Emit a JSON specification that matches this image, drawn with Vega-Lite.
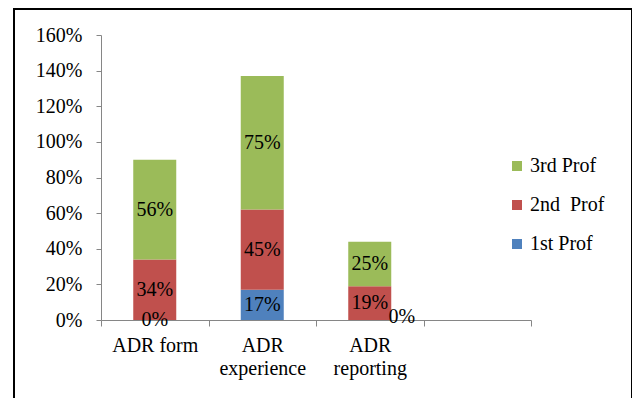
{
  "$schema": "https://vega.github.io/schema/vega-lite/v6.json",
  "width": 618,
  "height": 395,
  "autosize": "none",
  "padding": {"left": 14, "top": 9, "right": 0, "bottom": 0},
  "background": "white",
  "config": {
    "font": "Times New Roman, Liberation Serif, serif",
    "view": {"stroke": "#000000", "strokeWidth": 2},
    "axis": {
      "grid": false,
      "domainColor": "#868686",
      "tickColor": "#868686",
      "labelColor": "#000000",
      "labelFont": "Times New Roman, Liberation Serif, serif",
      "labelFontSize": 20
    },
    "legend": {
      "labelFont": "Times New Roman, Liberation Serif, serif",
      "labelFontSize": 20,
      "labelColor": "#000000"
    },
    "text": {"font": "Times New Roman, Liberation Serif, serif"}
  },
  "data": {
    "values": [
      {"question": "ADR form", "prof": "1st Prof", "share": 0.00},
      {"question": "ADR form", "prof": "2nd  Prof", "share": 0.34},
      {"question": "ADR form", "prof": "3rd Prof", "share": 0.56},
      {"question": "ADR experience", "prof": "1st Prof", "share": 0.17},
      {"question": "ADR experience", "prof": "2nd  Prof", "share": 0.45},
      {"question": "ADR experience", "prof": "3rd Prof", "share": 0.75},
      {"question": "ADR reporting", "prof": "1st Prof", "share": 0.00},
      {"question": "ADR reporting", "prof": "2nd  Prof", "share": 0.19},
      {"question": "ADR reporting", "prof": "3rd Prof", "share": 0.25}
    ]
  },
  "transform": [
    {"stack": "share", "groupby": ["question"], "sort": [{"field": "prof", "order": "ascending"}], "as": ["lo", "hi"]},
    {"calculate": "(datum.lo + datum.hi) / 2", "as": "mid"}
  ],
  "encoding": {
    "x": {
      "field": "question",
      "type": "nominal",
      "sort": null,
      "title": null,
      "scale": {
        "domain": ["ADR form", "ADR experience", "ADR reporting", "(blank)"],
        "range": [87, 517],
        "paddingInner": 0,
        "paddingOuter": 0
      },
      "axis": {
        "offset": -84,
        "labelAngle": 0,
        "tickBand": "extent",
        "tickSize": 6,
        "labelPadding": 9,
        "labelLineHeight": 23,
        "labelExpr": "!datum.value || datum.value === '(blank)' ? '' : (datum.value === 'ADR form' ? datum.value : split(datum.value, ' '))"
      }
    }
  },
  "layer": [
    {
      "mark": {"type": "bar", "width": {"band": 0.4}},
      "encoding": {
        "y": {
          "field": "lo",
          "type": "quantitative",
          "title": null,
          "scale": {"domain": [0, 1.6], "range": [311, 26], "nice": false, "zero": true},
          "axis": {
            "offset": -87,
            "format": ".0%",
            "values": [0, 0.2, 0.4, 0.6, 0.8, 1.0, 1.2, 1.4, 1.6],
            "tickSize": 5,
            "labelPadding": 14
          }
        },
        "y2": {"field": "hi"},
        "color": {
          "field": "prof",
          "type": "nominal",
          "scale": {
            "domain": ["3rd Prof", "2nd  Prof", "1st Prof"],
            "range": ["#9BBB59", "#C0504D", "#4F81BD"]
          },
          "legend": {
            "title": null,
            "orient": "none",
            "legendX": 493,
            "legendY": 147,
            "symbolType": "square",
            "symbolSize": 100,
            "symbolStrokeWidth": 0,
            "rowPadding": 19,
            "labelOffset": 3,
            "labelExpr": "replace(datum.label, '  ', '\u00a0 ')"
          }
        }
      }
    },
    {
      "transform": [{"filter": "!(datum.question === 'ADR reporting' && datum.prof === '1st Prof')"}],
      "mark": {"type": "text", "fontSize": 20, "color": "#000000", "baseline": "middle"},
      "encoding": {
        "y": {"field": "mid", "type": "quantitative", "title": null},
        "text": {"field": "share", "type": "quantitative", "format": ".0%"}
      }
    },
    {
      "transform": [{"filter": "datum.question === 'ADR reporting' && datum.prof === '1st Prof'"}],
      "mark": {"type": "text", "fontSize": 20, "color": "#000000", "baseline": "middle", "dx": 32, "dy": -3},
      "encoding": {
        "y": {"field": "mid", "type": "quantitative", "title": null},
        "text": {"field": "share", "type": "quantitative", "format": ".0%"}
      }
    }
  ]
}
